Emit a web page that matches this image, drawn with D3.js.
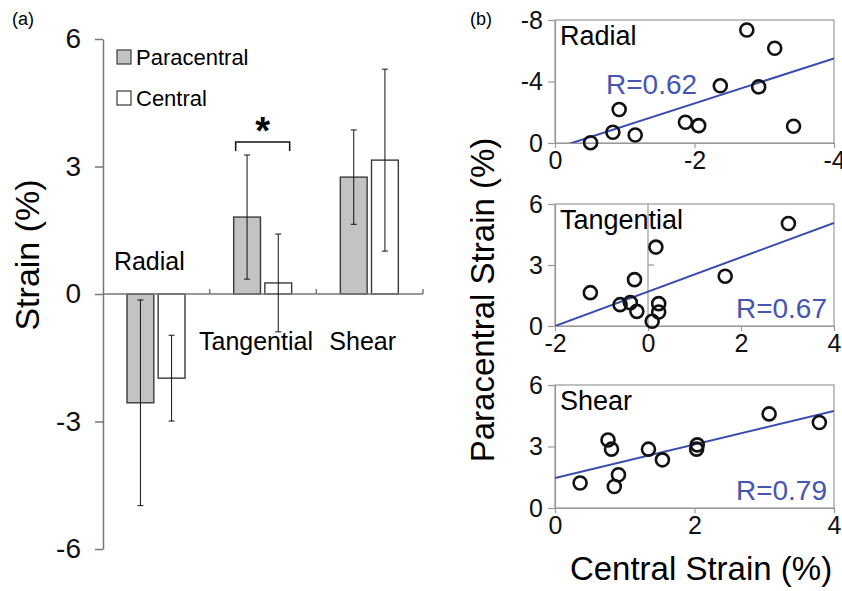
<!DOCTYPE html>
<html>
<head>
<meta charset="utf-8">
<script src="https://cdn.jsdelivr.net/npm/d3@7"></script>
<style>
  body { margin: 0; background: #fff; }
  svg { font-family: "Liberation Sans", Arial, sans-serif; }
</style>
</head>
<body>
<svg id="chart" width="842" height="591"></svg>
<script>
// ---- panel (a): bar chart ----
var categories = ['Radial', 'Tangential', 'Shear'];
var groups = ['Paracentral', 'Central'];
var paraMean = [-2.56, 1.81, 2.75];
var paraSD = [2.42, 1.46, 1.11];
var centralMean = [-1.98, 0.26, 3.15];
var centralSD = [1.01, 1.15, 2.14];
var barTicks = [-6, -3, 0, 3, 6];

// ---- panel (b): scatter plots ----
var radialX = [-0.51, -0.83, -0.92, -1.15, -1.87, -2.06, -2.37, -2.75, -2.92, -3.15, -3.42];
var radialY = [-0.02, -0.70, -2.18, -0.52, -1.35, -1.13, -3.72, -7.35, -3.65, -6.16, -1.09];
var tangX = [-1.24, -0.60, -0.38, -0.29, -0.24, 0.17, 0.09, 0.23, 0.23, 1.66, 3.02];
var tangY = [1.64, 1.05, 1.15, 2.28, 0.72, 3.88, 0.23, 1.10, 0.69, 2.45, 5.04];
var shearX = [0.36, 0.76, 0.81, 0.85, 0.91, 1.34, 1.54, 2.04, 2.03, 3.07, 3.79];
var shearY = [1.22, 3.32, 2.87, 1.05, 1.62, 2.87, 2.35, 3.08, 2.87, 4.59, 4.17];

var panelNames = ['Radial', 'Tangential', 'Shear'];
var panelXDomain = [[0, -4], [-2, 4], [0, 4]];
var panelYDomain = [[0, -8], [0, 6], [0, 6]];
var panelXTicks = [[0, -2, -4], [-2, 0, 2, 4], [0, 2, 4]];
var panelYTicks = [[0, -4, -8], [0, 3, 6], [0, 3, 6]];
var fitSlope = [1.463, 0.845, 0.818];
var fitIntercept = [0.351, 1.69, 1.46];
var rLabels = ['R=0.62', 'R=0.67', 'R=0.79'];

var svg = d3.select('#chart');
var axisColor = '#777';
var plain = function(d) { return String(d); };  // ascii hyphen, no decimals

// ======== (a) ========
var y = d3.scaleLinear().domain([-6, 6]).range([549, 39]);
var x = d3.scaleBand().domain(categories).range([103, 423]);
var xIn = d3.scaleBand().domain(groups).range([24, 82]).paddingInner(0.14);
var y0 = y(0);

svg.append('text').attr('x', 12).attr('y', 25)
    .attr('font-size', 18).text('(a)');

var yAxis = svg.append('g')
    .attr('transform', 'translate(103,0)')
    .call(d3.axisLeft(y).tickValues(barTicks).tickFormat(plain)
        .tickSize(8).tickPadding(14).tickSizeOuter(0));
yAxis.selectAll('path, line').attr('stroke', axisColor).attr('stroke-width', 1.5);
yAxis.selectAll('text').attr('font-size', 28).attr('fill', '#111')
    .attr('font-family', '"Liberation Sans", Arial, sans-serif');

svg.append('text')
    .attr('transform', 'translate(39,255) rotate(-90)')
    .attr('text-anchor', 'middle')
    .attr('font-size', 34)
    .text('Strain (%)');

// bars
var bars = [];
categories.forEach(function(c, i) {
    bars.push({cat: c, grp: 'Paracentral', mean: paraMean[i], sd: paraSD[i]});
    bars.push({cat: c, grp: 'Central', mean: centralMean[i], sd: centralSD[i]});
});

svg.selectAll('rect.bar')
    .data(bars)
    .enter()
    .append('rect')
    .attr('class', 'bar')
    .attr('x', function(d) { return x(d.cat) + xIn(d.grp); })
    .attr('y', function(d) { return Math.min(y(d.mean), y0); })
    .attr('width', xIn.bandwidth())
    .attr('height', function(d) { return Math.abs(y(d.mean) - y0); })
    .attr('fill', function(d) { return d.grp == 'Paracentral' ? '#c3c3c3' : '#fff'; })
    .attr('stroke', '#3a3a3a')
    .attr('stroke-width', 1.4);

// zero axis
svg.append('line')
    .attr('x1', 103).attr('x2', 423)
    .attr('y1', y0).attr('y2', y0)
    .attr('stroke', axisColor).attr('stroke-width', 1.5);
svg.selectAll('line.cat-tick')
    .data(categories)
    .enter()
    .append('line')
    .attr('class', 'cat-tick')
    .attr('x1', function(d) { return x(d) + x.bandwidth(); })
    .attr('x2', function(d) { return x(d) + x.bandwidth(); })
    .attr('y1', y0).attr('y2', y0 - 5)
    .attr('stroke', axisColor).attr('stroke-width', 1.5);

// error bars
var err = svg.selectAll('g.err')
    .data(bars)
    .enter()
    .append('g')
    .attr('class', 'err')
    .attr('stroke', '#111')
    .attr('stroke-width', 1);
err.append('line')
    .attr('x1', function(d) { return x(d.cat) + xIn(d.grp) + xIn.bandwidth() / 2; })
    .attr('x2', function(d) { return x(d.cat) + xIn(d.grp) + xIn.bandwidth() / 2; })
    .attr('y1', function(d) { return y(d.mean + d.sd); })
    .attr('y2', function(d) { return y(d.mean - d.sd); });
[1, -1].forEach(function(s) {
    err.append('line')
        .attr('x1', function(d) { return x(d.cat) + xIn(d.grp) + xIn.bandwidth() / 2 - 3; })
        .attr('x2', function(d) { return x(d.cat) + xIn(d.grp) + xIn.bandwidth() / 2 + 3; })
        .attr('y1', function(d) { return y(d.mean + s * d.sd); })
        .attr('y2', function(d) { return y(d.mean + s * d.sd); });
});

// category labels
svg.selectAll('text.cat')
    .data(categories)
    .enter()
    .append('text')
    .attr('class', 'cat')
    .attr('x', function(d) { return x(d) + x.bandwidth() / 2 - 7; })
    .attr('y', function(d, i) { return paraMean[i] < 0 ? y0 - 24 : y0 + 56; })
    .attr('text-anchor', 'middle')
    .attr('font-size', 25)
    .text(function(d) { return d; });

// significance bracket
var bx1 = x('Tangential') + xIn('Paracentral') + 2;
var bx2 = x('Tangential') + xIn('Central') + xIn.bandwidth() - 2;
svg.append('path')
    .attr('d', 'M' + bx1 + ',151 V142 H' + bx2 + ' V151')
    .attr('fill', 'none').attr('stroke', '#111').attr('stroke-width', 1.5);
svg.append('text')
    .attr('x', (bx1 + bx2) / 2).attr('y', 144)
    .attr('text-anchor', 'middle')
    .attr('font-size', 38).attr('font-weight', 'bold')
    .text('*');

// legend
var legend = svg.selectAll('g.legend')
    .data(groups)
    .enter()
    .append('g')
    .attr('class', 'legend')
    .attr('transform', function(d, i) { return 'translate(117,' + (50 + i * 41) + ')'; });
legend.append('rect')
    .attr('width', 14).attr('height', 14)
    .attr('fill', function(d) { return d == 'Paracentral' ? '#c3c3c3' : '#fff'; })
    .attr('stroke', '#3a3a3a').attr('stroke-width', 1.2);
legend.append('text')
    .attr('x', 19).attr('y', 15)
    .attr('font-size', 22)
    .text(function(d) { return d; });

// ======== (b) ========
svg.append('text').attr('x', 470).attr('y', 25)
    .attr('font-size', 18).text('(b)');

var panelTop = [20, 204, 385];
var panelBottom = [143, 326, 508];
var panelX = [[radialX, radialY], [tangX, tangY], [shearX, shearY]];
var px0 = 555, px1 = 834;

panelNames.forEach(function(name, k) {
    var sx = d3.scaleLinear().domain(panelXDomain[k]).range([px0, px1]);
    var sy = d3.scaleLinear().domain(panelYDomain[k]).range([panelBottom[k], panelTop[k]]);
    var g = svg.append('g');

    // box
    g.append('rect')
        .attr('x', px0).attr('y', panelTop[k])
        .attr('width', px1 - px0).attr('height', panelBottom[k] - panelTop[k])
        .attr('fill', 'none').attr('stroke', '#999').attr('stroke-width', 1.2);

    var ax = g.append('g')
        .attr('transform', 'translate(0,' + panelBottom[k] + ')')
        .call(d3.axisBottom(sx).tickValues(panelXTicks[k]).tickFormat(plain)
            .tickSize(5).tickPadding(3).tickSizeOuter(0));
    var ay = g.append('g')
        .attr('transform', 'translate(' + px0 + ',0)')
        .call(d3.axisLeft(sy).tickValues(panelYTicks[k]).tickFormat(plain)
            .tickSize(7).tickPadding(5).tickSizeOuter(0));
    [ax, ay].forEach(function(a) {
        a.select('.domain').attr('stroke', '#999').attr('stroke-width', 1.2);
        a.selectAll('line').attr('stroke', '#999').attr('stroke-width', 1.2);
        a.selectAll('text').attr('font-size', 25).attr('fill', '#111')
            .attr('font-family', '"Liberation Sans", Arial, sans-serif');
    });

    // axis crossing at x = 0 inside the tangential panel
    if (sx.domain()[0] < 0 && sx.domain()[1] > 0) {
        g.append('line')
            .attr('x1', sx(0)).attr('x2', sx(0))
            .attr('y1', panelTop[k]).attr('y2', panelBottom[k])
            .attr('stroke', '#999').attr('stroke-width', 1.2);
        g.selectAll('line.mid-tick')
            .data(panelYTicks[k].slice(1, -1))
            .enter()
            .append('line')
            .attr('x1', sx(0)).attr('x2', sx(0) + 6)
            .attr('y1', function(d) { return sy(d); })
            .attr('y2', function(d) { return sy(d); })
            .attr('stroke', '#999').attr('stroke-width', 1.2);
    }

    // fit line, clipped to panel
    svg.append('clipPath').attr('id', 'clip' + k)
        .append('rect')
        .attr('x', px0).attr('y', panelTop[k])
        .attr('width', px1 - px0).attr('height', panelBottom[k] - panelTop[k]);
    var xd = sx.domain();
    g.append('line')
        .attr('clip-path', 'url(#clip' + k + ')')
        .attr('x1', sx(xd[0])).attr('y1', sy(fitSlope[k] * xd[0] + fitIntercept[k]))
        .attr('x2', sx(xd[1])).attr('y2', sy(fitSlope[k] * xd[1] + fitIntercept[k]))
        .attr('stroke', '#3a4bb0').attr('stroke-width', 2);

    // points
    var xs = panelX[k][0], ys = panelX[k][1];
    g.selectAll('circle')
        .data(xs)
        .enter()
        .append('circle')
        .attr('cx', function(d) { return sx(d); })
        .attr('cy', function(d, i) { return sy(ys[i]); })
        .attr('r', 6.5)
        .attr('fill', 'none')
        .attr('stroke', '#111')
        .attr('stroke-width', 2.6);

    // panel name
    g.append('text')
        .attr('x', 560).attr('y', panelTop[k] + 25)
        .attr('font-size', 27)
        .text(name);

    // R label
    var rl = g.append('text')
        .attr('font-size', 28)
        .attr('fill', '#4656b0')
        .text(rLabels[k]);
    if (k == 0) {
        rl.attr('x', 606).attr('y', panelTop[k] + 74);
    } else {
        rl.attr('x', 827).attr('y', panelBottom[k] - 8).attr('text-anchor', 'end');
    }
});

svg.append('text')
    .attr('transform', 'translate(494,300) rotate(-90)')
    .attr('text-anchor', 'middle')
    .attr('font-size', 33)
    .text('Paracentral Strain (%)');

svg.append('text')
    .attr('x', 701).attr('y', 580)
    .attr('text-anchor', 'middle')
    .attr('font-size', 33)
    .text('Central Strain (%)');
</script>
</body>
</html>
